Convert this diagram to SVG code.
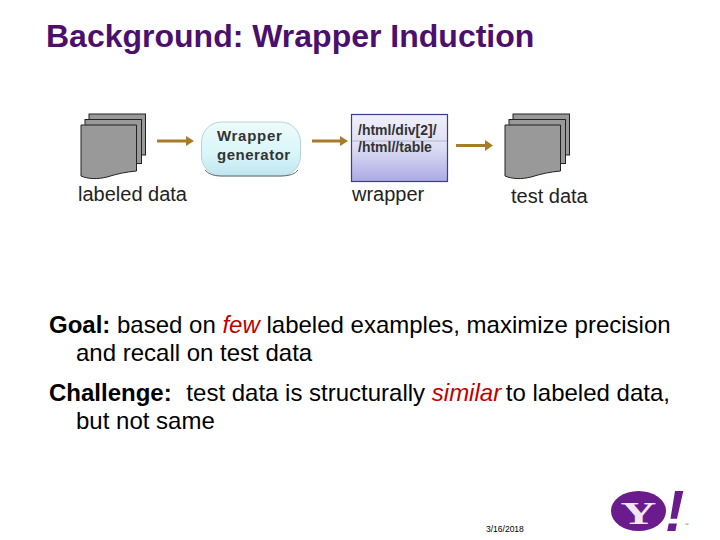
<svg xmlns="http://www.w3.org/2000/svg" width="720" height="540" viewBox="0 0 720 540">
<style>
text{font-family:"Liberation Sans",Arial,sans-serif;fill:#000}
.title{font-size:32px;font-weight:bold;fill:#4b0f6e}
.lab{font-size:20px;fill:#222}
.body{font-size:24px}
.b{font-weight:bold}
.em{font-style:italic;fill:#c00000}
.pg{fill:#999;stroke:#222;stroke-width:1}
.ar{fill:none;stroke:#a67c2a;stroke-width:3}
.ah{fill:#a67c2a}
.inner{font-size:14px;font-weight:bold;fill:#333}
.gen{font-size:15px;font-weight:bold;fill:#333}
</style>
<defs>
<linearGradient id="g1" x1="0" y1="0" x2="0" y2="1"><stop offset="0" stop-color="#eefbfc"/><stop offset="0.6" stop-color="#d8f5f8"/><stop offset="1" stop-color="#bfe6ee"/></linearGradient>
<linearGradient id="g2" x1="0" y1="0" x2="0" y2="1"><stop offset="0" stop-color="#f0f0fb"/><stop offset="0.5" stop-color="#dcdcf5"/><stop offset="1" stop-color="#a9aae4"/></linearGradient>
<g id="doc">
<rect class="pg" x="8" y="0" width="56.500" height="41"/>
<rect class="pg" x="4" y="5.500" width="56.500" height="44"/>
<path class="pg" d="M0 11H55.500V57C44 58 36 60 26 63C16 65.500 7 65 0 62Z"/>
</g>
</defs>
<rect width="720" height="540" fill="#fff"/>
<text class="title" x="46" y="47">Background: Wrapper Induction</text>
<g id="connectors">
<path class="ar" d="M157 141H187"/><path class="ah" d="M186 136L194 141L186 146Z"/>
<path class="ar" d="M312 141H341"/><path class="ah" d="M340 136L348 141L340 146Z"/>
<path class="ar" d="M456 145.500H487"/><path class="ah" d="M485 140L493 145.500L485 151Z"/>
</g>
<g id="labeled-data"><use href="#doc" x="81" y="114"/><text class="lab" x="78" y="201">labeled data</text></g>
<g id="generator"><rect x="201.500" y="122" width="99" height="54" rx="20" fill="url(#g1)" stroke="#b5d4da"/><path d="M205 170Q210 176 221 176H281Q294 176 298 170" fill="none" stroke="#667" stroke-width="1"/>
<text class="gen" x="217" y="141" letter-spacing="0.700">Wrapper</text><text class="gen" x="217" y="160" letter-spacing="0.500">generator</text></g>
<g id="wrapper"><rect x="351.500" y="114.500" width="96" height="67" fill="url(#g2)" stroke="#3e3e7a" stroke-width="1.200"/><path d="M352 141H447" stroke="#a9a9c0" stroke-width="0.800"/>
<text class="inner" x="358" y="135">/html/div[2]/</text><text class="inner" x="358" y="152">/html//table</text><text class="lab" x="352" y="201">wrapper</text></g>
<g id="test-data"><use href="#doc" x="505" y="114"/><text class="lab" x="511" y="203">test data</text></g>
<g id="goal"><text class="body" x="49" y="333"><tspan class="b">Goal:</tspan> based on <tspan class="em">few</tspan> labeled examples, maximize precision</text><text class="body" x="76" y="361">and recall on test data</text></g>
<g id="challenge"><text class="body" x="49" y="401"><tspan class="b">Challenge:</tspan> <tspan dx="8">test data is structurally </tspan><tspan class="em">similar</tspan> <tspan dx="-2">to labeled data,</tspan></text><text class="body" x="76" y="429">but not same</text></g>
<text x="486" y="532" font-size="8.500">3/16/2018</text>
<g id="logo"><ellipse cx="638.500" cy="511" rx="27.500" ry="20" fill="#6a1b8c"/>
<text transform="translate(638.500 524) scale(1.550 1)" text-anchor="middle" style="font-family:'Liberation Serif',serif;font-weight:bold;font-size:32px;fill:#f2e6f5">Y</text>
<text x="665" y="531" style="font-weight:bold;font-style:italic;font-size:58px;fill:#6a1b8c">!</text>
<text x="684.500" y="526" style="font-size:4px;fill:#555">™</text></g>
</svg>
